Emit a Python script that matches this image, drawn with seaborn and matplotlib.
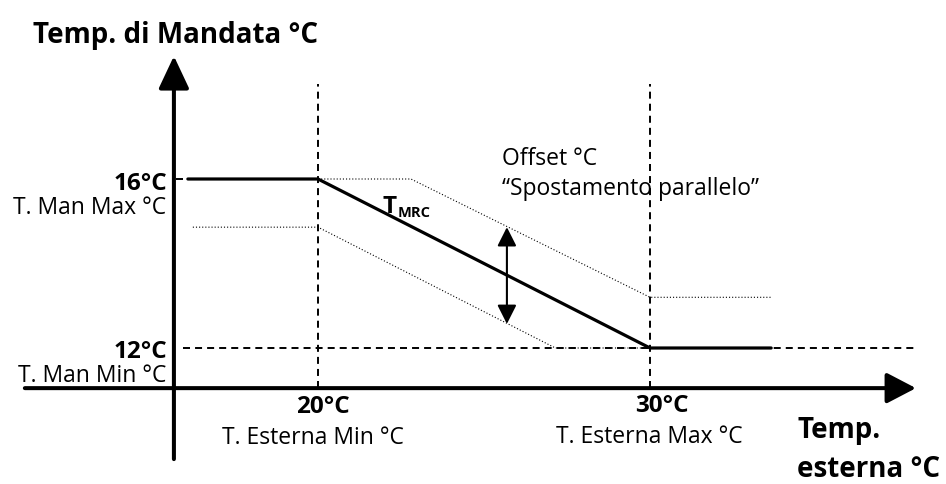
import matplotlib
matplotlib.use("Agg")
import matplotlib.pyplot as plt
import seaborn as sns

# ---- data (diagram values, in °C) ----
main_x = [16.08, 20, 30, 33.65]          # curve T_MRC
main_y = [16, 16, 12, 12]
upper_x = [20, 22.8, 30, 33.68]          # curve + offset
upper_y = [16, 16, 13.2, 13.2]
lower_x = [16.23, 20, 27.15, 30]         # curve - offset
lower_y = [14.86, 14.86, 12, 12]
min_line_x = [15.93, 38.07]              # 12 °C dashed reference
min_line_y = [12, 12]
max_dash_x = [15.72, 16.08]              # 16 °C short dash at axis
max_dash_y = [16, 16]
ext_min, ext_max = 20, 30                # T. Esterna Min / Max
vline_y = [11.05, 18.25]
axis_x0, axis_y0 = 15.66, 11.05          # axis crossing
yaxis_span = [9.37, 18.91]
xaxis_span = [11.17, 38.01]
offset_x = 25.69
offset_span = [12.57, 14.86]

sns.set_theme(style="white")
plt.rcParams['font.family'] = ['Open Sans', 'DejaVu Sans']

W, H = 946, 485
fig = plt.figure(figsize=(W / 100, H / 100), dpi=100)
ax = fig.add_axes([0, 0, 1, 1])
ax.set_xlim(10.4217, 38.9157)
ax.set_ylim(8.781, 20.2604)
ax.set_axis_off()

dash = (0, (3.6, 2.6))
dot = (0, (1, 1.8))

# reference dashed lines
sns.lineplot(x=min_line_x, y=min_line_y, ax=ax, color='black', lw=1.4,
             linestyle=dash, sort=False, estimator=None)
sns.lineplot(x=max_dash_x, y=max_dash_y, ax=ax, color='black', lw=1.4,
             linestyle=dash, sort=False, estimator=None)
for xv in (ext_min, ext_max):
    sns.lineplot(x=[xv, xv], y=vline_y, ax=ax, color='black', lw=1.4,
                 linestyle=dash, sort=False, estimator=None)

# offset curves
sns.lineplot(x=upper_x, y=upper_y, ax=ax, color='black', lw=0.8,
             linestyle=dot, sort=False, estimator=None)
sns.lineplot(x=lower_x, y=lower_y, ax=ax, color='black', lw=0.8,
             linestyle=dot, sort=False, estimator=None)

# main curve
sns.lineplot(x=main_x, y=main_y, ax=ax, color='black', lw=2.3,
             sort=False, estimator=None, solid_joinstyle='miter')

# axes arrows
ax.annotate('', xy=(axis_x0, yaxis_span[1]), xytext=(axis_x0, yaxis_span[0]),
            arrowprops=dict(arrowstyle='-|>,head_length=20,head_width=9.4',
                            mutation_scale=1, lw=2.9, color='black',
                            shrinkA=0, shrinkB=0))
ax.annotate('', xy=(xaxis_span[1], axis_y0), xytext=(xaxis_span[0], axis_y0),
            arrowprops=dict(arrowstyle='-|>,head_length=18,head_width=9.4',
                            mutation_scale=1, lw=2.9, color='black',
                            shrinkA=0, shrinkB=0))
# offset double arrow
ax.annotate('', xy=(offset_x, offset_span[1]), xytext=(offset_x, offset_span[0]),
            arrowprops=dict(arrowstyle='<|-|>,head_length=11.5,head_width=5.8',
                            mutation_scale=1, lw=1.5, color='black',
                            shrinkA=0, shrinkB=0))


def P(px, py):
    return px / W, 1 - py / H


def txt(px, py, s, size, bold=False, ha='left'):
    ax.text(*P(px, py), s, transform=ax.transAxes, fontsize=size,
            fontweight='bold' if bold else 'normal', ha=ha, va='baseline',
            color='black')


REG = 16.5
BOLD = 17.5
BIG = 20
txt(33, 43, "Temp. di Mandata °C", BIG, bold=True)
txt(167, 190, "16°C", BOLD, bold=True, ha='right')
txt(166, 214, "T. Man Max °C", REG, ha='right')
txt(167, 358, "12°C", BOLD, bold=True, ha='right')
txt(166, 382, "T. Man Min °C", REG, ha='right')
txt(323, 413, "20°C", BOLD, bold=True, ha='center')
txt(313, 444, "T. Esterna Min °C", REG, ha='center')
txt(662, 412, "30°C", BOLD, bold=True, ha='center')
txt(649, 443, "T. Esterna Max °C", REG, ha='center')
txt(797, 438, "Temp.", BIG, bold=True)
txt(797, 477, "esterna °C", BIG, bold=True)
txt(502, 165, "Offset °C", REG)
txt(502, 195, "“Spostamento parallelo”", REG)
txt(382, 213, "T", 17.5, bold=True)
txt(398, 217, "MRC", 10.5, bold=True)

fig.savefig("out.png", dpi=100)
